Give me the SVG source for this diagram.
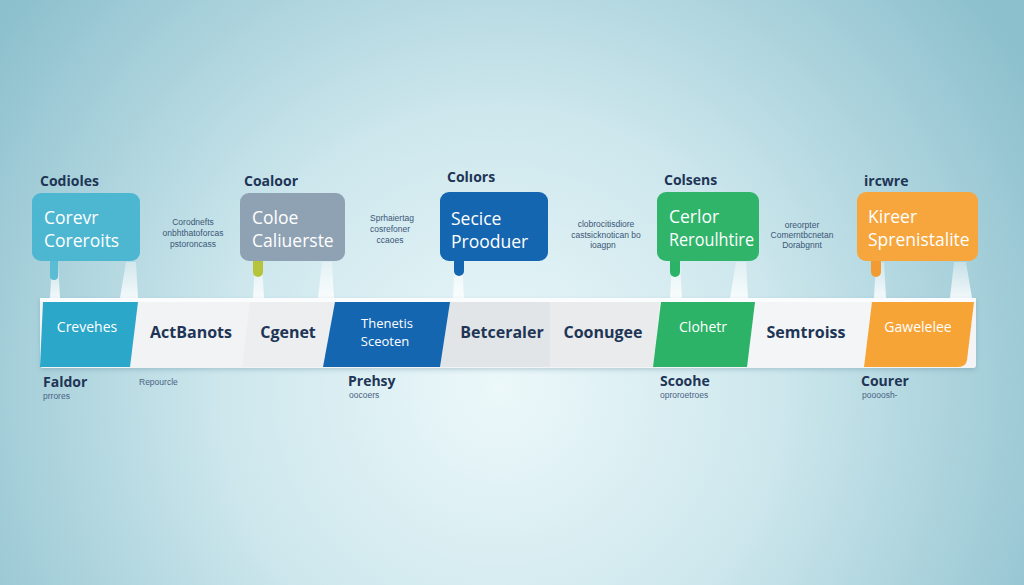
<svg xmlns="http://www.w3.org/2000/svg" width="1024" height="585" viewBox="0 0 1024 585">
<defs>
<radialGradient id="bg" cx="500" cy="390" r="620" gradientUnits="userSpaceOnUse">
<stop offset="0" stop-color="#ecf8fa"/>
<stop offset="0.45" stop-color="#cde7ed"/>
<stop offset="1" stop-color="#8cc0cd"/>
</radialGradient>
<linearGradient id="strut" x1="0" y1="0" x2="0" y2="1">
<stop offset="0" stop-color="#ffffff" stop-opacity="0.35"/>
<stop offset="1" stop-color="#ffffff" stop-opacity="0.85"/>
</linearGradient>
<filter id="sh" x="-10%" y="-10%" width="120%" height="130%">
<feDropShadow dx="0" dy="2" stdDeviation="2" flood-color="#3a6a80" flood-opacity="0.25"/>
</filter>
</defs>
<style>
.title{font-family:"Open Sans","Liberation Sans",sans-serif;font-weight:700;font-size:14px;fill:#1e3556}
.boxt{font-family:"Open Sans","Liberation Sans",sans-serif;font-size:17.5px;fill:#ffffff}
.small{font-family:"Liberation Sans",sans-serif;font-size:8.5px;fill:#3b5676;text-anchor:middle}
.bar{font-family:"Open Sans","Liberation Sans",sans-serif;font-weight:700;font-size:16px;fill:#1e3556;text-anchor:middle}
.barw{font-family:"Open Sans","Liberation Sans",sans-serif;font-size:14px;fill:#ffffff;text-anchor:middle}
.barw2{font-family:"Open Sans","Liberation Sans",sans-serif;font-size:13px;fill:#ffffff;text-anchor:middle}
.lab{font-family:"Open Sans","Liberation Sans",sans-serif;font-weight:700;font-size:14px;fill:#1e3556}
.sub{font-family:"Liberation Sans",sans-serif;font-size:8.5px;fill:#4a6284}
</style>
<rect width="1024" height="585" fill="url(#bg)"/>

<g id="connectors">
<polygon points="52,262 58,262 60,298 50,298" fill="url(#strut)"/>
<polygon points="126,262 136,262 138,298 120,298" fill="url(#strut)"/>
<polygon points="255,262 262,262 264,298 253,298" fill="url(#strut)"/>
<polygon points="322,262 332,262 334,298 318,298" fill="url(#strut)"/>
<polygon points="455,262 462,262 464,298 453,298" fill="url(#strut)"/>
<polygon points="672,262 680,262 682,298 670,298" fill="url(#strut)"/>
<polygon points="736,262 746,262 748,298 730,298" fill="url(#strut)"/>
<polygon points="876,262 884,262 886,298 874,298" fill="url(#strut)"/>
<polygon points="954,262 966,262 972,298 950,298" fill="url(#strut)"/>
</g>

<g id="bar" filter="url(#sh)">
<rect x="40" y="298" width="936" height="70" rx="3" fill="#f2f4f6"/>
<rect x="40" y="298" width="936" height="4" fill="#fafcfd"/>
<polygon points="130,302 250,302 242,367 122,367" fill="#f1f3f5"/>
<polygon points="250,302 335,302 324,367 242,367" fill="#eceef0"/>
<polygon points="450,302 550,302 550,367 440,367" fill="#e2e5e8"/>
<polygon points="550,302 660,302 653,367 550,367" fill="#e9ebed"/>
<polygon points="755,302 872,302 864,367 747,367" fill="#f3f5f6"/>
</g>

<g id="seg1"><polygon points="43,302 138,302 130,367 40,367" fill="#2aa7c9"/><text class="barw" x="87" y="332">Crevehes</text></g>
<g id="seg2"><text class="bar" x="191" y="338">ActBanots</text></g>
<g id="seg3"><text class="bar" x="288" y="338">Cgenet</text></g>
<g id="seg4"><polygon points="335,302 450,302 440,367 323,367" fill="#1466b1"/><text class="barw2" x="387" y="328">Thenetis</text><text class="barw2" x="385" y="346">Sceoten</text></g>
<g id="seg5"><text class="bar" x="502" y="338">Betceraler</text></g>
<g id="seg6"><text class="bar" x="603" y="338">Coonugee</text></g>
<g id="seg7"><polygon points="661,302 755,302 747,367 653,367" fill="#2db368"/><text class="barw" x="703" y="332">Clohetr</text></g>
<g id="seg8"><text class="bar" x="806" y="338">Semtroiss</text></g>
<g id="seg9"><path d="M872,302 H974 L967,360 Q966,367 958,367 H864 Z" fill="#f7a436"/><text class="barw" x="918" y="332">Gawelelee</text></g>

<g id="node1">
<text class="title" x="40" y="186">Codioles</text>
<rect x="50" y="250" width="8" height="30" rx="4" fill="#5bbcd4"/>
<rect x="32" y="193" width="108" height="68" rx="9" fill="#4db6d1"/>
<text class="boxt" x="44" y="224">Corevr</text>
<text class="boxt" x="44" y="247">Coreroits</text>
</g>
<g id="note1"><text class="small" x="193" y="225">Corodnefts</text><text class="small" x="193" y="236">onbhthatoforcas</text><text class="small" x="193" y="247">pstoroncass</text></g>

<g id="node2">
<text class="title" x="244" y="186">Coaloor</text>
<rect x="253" y="250" width="10" height="27" rx="5" fill="#b5c43a"/>
<rect x="240" y="193" width="105" height="68" rx="9" fill="#8fa2b4"/>
<text class="boxt" x="252" y="224">Coloe</text>
<text class="boxt" x="252" y="247">Caliuerste</text>
</g>
<g id="note2"><text class="small" x="392" y="221">Sprhaiertag</text><text class="small" x="390" y="232">cosrefoner</text><text class="small" x="390" y="243">ccaoes</text></g>

<g id="node3">
<text class="title" x="447" y="182">Colıors</text>
<rect x="454" y="250" width="10" height="26" rx="5" fill="#1466b1"/>
<rect x="440" y="192" width="108" height="69" rx="9" fill="#1466b1"/>
<text class="boxt" x="451" y="225">Secice</text>
<text class="boxt" x="451" y="248">Prooduer</text>
</g>
<g id="note3"><text class="small" x="606" y="227">clobrocitisdiore</text><text class="small" x="606" y="238">castsicknotican bo</text><text class="small" x="603" y="248">ioagpn</text></g>

<g id="node4">
<text class="title" x="664" y="185">Colsens</text>
<rect x="670" y="250" width="10" height="27" rx="5" fill="#2db368"/>
<rect x="657" y="192" width="102" height="69" rx="9" fill="#2fb46a"/>
<text class="boxt" x="669" y="223">Cerlor</text>
<text class="boxt" x="669" y="246" textLength="85" lengthAdjust="spacingAndGlyphs">Reroulhtire</text>
</g>
<g id="note4"><text class="small" x="802" y="228">oreorpter</text><text class="small" x="802" y="238">Comerntbcnetan</text><text class="small" x="802" y="248">Dorabgnnt</text></g>

<g id="node5">
<text class="title" x="864" y="186">ircwre</text>
<rect x="871" y="250" width="10" height="27" rx="5" fill="#f29b33"/>
<rect x="857" y="192" width="121" height="69" rx="9" fill="#f6a63c"/>
<text class="boxt" x="868" y="223">Kireer</text>
<text class="boxt" x="868" y="246">Sprenistalite</text>
</g>

<g id="below">
<text class="lab" x="43" y="387">Faldor</text><text class="sub" x="43" y="399">prrores</text>
<text class="sub" x="139" y="385">Repourcle</text>
<text class="lab" x="348" y="386">Prehsy</text><text class="sub" x="349" y="398">oocoers</text>
<text class="lab" x="660" y="386">Scoohe</text><text class="sub" x="660" y="398">oproroetroes</text>
<text class="lab" x="861" y="386">Courer</text><text class="sub" x="862" y="398">poooosh-</text>
</g>
</svg>
